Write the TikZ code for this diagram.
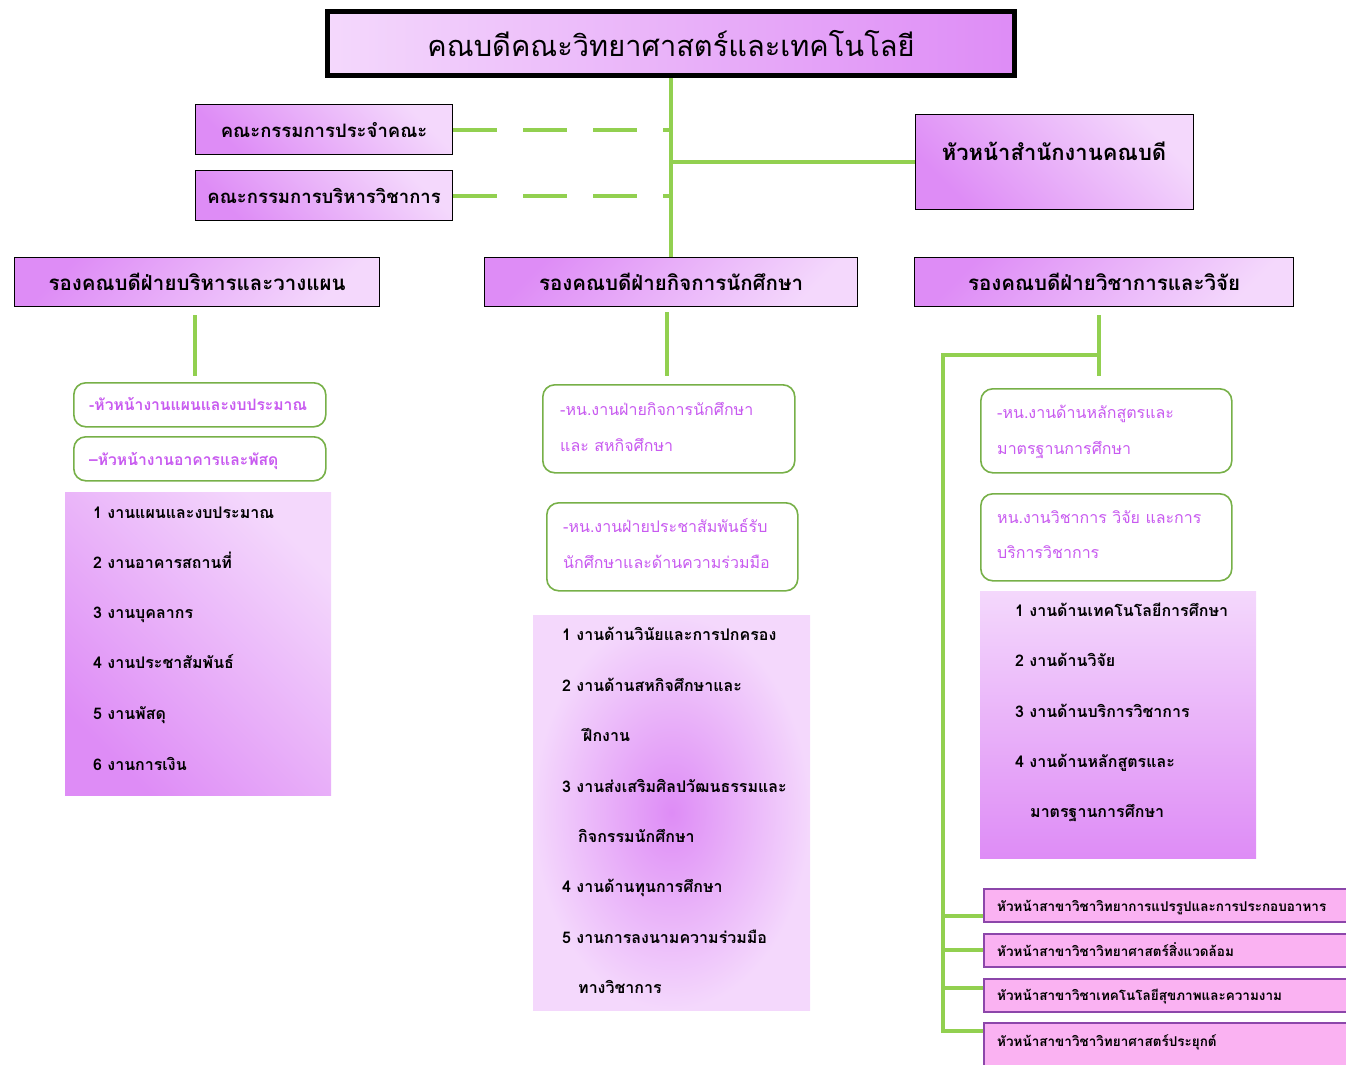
\documentclass[tikz,border=0pt]{standalone}
\usepackage{fontspec}
\setmainfont{Loma}[Script=Thai]
\definecolor{lt}{RGB}{244,216,252}
\definecolor{dk}{RGB}{222,140,246}
\definecolor{gline}{RGB}{146,208,80}
\definecolor{gbord}{RGB}{119,176,72}
\definecolor{ptext}{RGB}{200,90,240}
\definecolor{pinkf}{RGB}{250,178,242}
\definecolor{pinkb}{RGB}{140,70,170}
\begin{document}
\begin{tikzpicture}[x=1pt,y=-1pt,
  box/.style={draw=black, line width=1.2pt, inner sep=0pt, anchor=north west},
  shTR/.style={top color=lt, bottom color=dk, shading angle=-45},
  shTL/.style={top color=dk, bottom color=lt, shading angle=45},
  gl/.style={draw=gline, line width=4pt},
  gd/.style={draw=gline, line width=4pt, dash pattern=on 44pt off 26pt},
  rbox/.style={draw=gbord, line width=1.6pt, rounded corners=12pt, fill=white, inner sep=0pt, anchor=north west},
  item/.style={anchor=west, inner sep=0pt, font=\fontsize{16}{18}\selectfont\bfseries, text height=1.1em, text depth=0.2em},
  pbox/.style={draw=pinkb, line width=1.6pt, fill=pinkf, inner sep=0pt, anchor=north west},
  ptxt/.style={anchor=west, inner sep=0pt, font=\fontsize{13.5}{16}\selectfont\bfseries, text height=1.1em, text depth=0.2em},
  rtxt/.style={anchor=west, inner sep=0pt, text=ptext, font=\fontsize{16}{18}\selectfont, text height=1.1em, text depth=0.2em},
  ltxt/.style={anchor=west, inner sep=0pt, text=ptext, font=\fontsize{15.7}{18}\selectfont\bfseries, text height=1.1em, text depth=0.2em}
]
\useasboundingbox (0,0) rectangle (1346,1065);

% title
\node[box, line width=5pt, left color=lt, right color=dk, minimum width=687pt, minimum height=64pt,
  font=\fontsize{29}{34}\selectfont] (title) at (325,9) {คณบดีคณะวิทยาศาสตร์และเทคโนโลยี};

% committees
\node[box, shTR, minimum width=257pt, minimum height=50pt, font=\fontsize{18.5}{22}\selectfont\bfseries] (com1) at (195,104) {คณะกรรมการประจำคณะ};
\node[box, shTR, minimum width=257pt, minimum height=50pt, font=\fontsize{18.5}{22}\selectfont\bfseries] (com2) at (195,170) {คณะกรรมการบริหารวิชาการ};

% head office
\node[box, shTR, minimum width=278pt, minimum height=95pt] (head) at (915,114) {};
\node[anchor=center, inner sep=0pt, font=\fontsize{22}{26}\selectfont\bfseries] (headt) at (1054,151) {หัวหน้าสำนักงานคณบดี};

% vice deans
\node[box, shTL, minimum width=365pt, minimum height=49pt, font=\fontsize{20.5}{24}\selectfont\bfseries] (vl) at (14,257) {รองคณบดีฝ่ายบริหารและวางแผน};
\node[box, shTL, minimum width=373pt, minimum height=49pt, font=\fontsize{20.5}{24}\selectfont\bfseries] (vm) at (484,257) {รองคณบดีฝ่ายกิจการนักศึกษา};
\node[box, shTL, minimum width=379pt, minimum height=49pt, font=\fontsize{20.5}{24}\selectfont\bfseries] (vr) at (914,257) {รองคณบดีฝ่ายวิชาการและวิจัย};

% connectors top
\draw[gl] (title.south) -- (title.south |- vm.north);
\draw[gl] (title.south |- head.west) -- (head.west);
\draw[gd] (com1.east) -- (com1.east -| title.south);
\draw[gd] (com2.east) -- (com2.east -| title.south);

% stubs below vice deans
\coordinate (la) at (195,315); \coordinate (lb) at (195,376);
\coordinate (ma) at (667,312); \coordinate (mb) at (667,376);
\coordinate (ra) at (1099,315); \coordinate (rb) at (1099,376);
\coordinate (rh) at (943,355); \coordinate (rv) at (943,1033);
\draw[gl] (la) -- (lb);
\draw[gl] (ma) -- (mb);
\draw[gl] (ra) -- (rb);
\draw[gl] (rh -| ra) -- (rh) -- (rv);

% left column
\node[rbox, minimum width=252pt, minimum height=44pt] (lr1) at (73,382) {};
\node[ltxt] (lr1t) at (89,406) {-หัวหน้างานแผนและงบประมาณ};
\node[rbox, minimum width=252pt, minimum height=44pt] (lr2) at (73,436) {};
\node[ltxt] (lr2t) at (89,461) {--หัวหน้างานอาคารและพัสดุ};
\fill[shTR] (65,492) rectangle (331,795);
\node[item] (l1) at (93,514) {1 งานแผนและงบประมาณ};
\node[item] (l2) at (93,564) {2 งานอาคารสถานที่};
\node[item] (l3) at (93,614) {3 งานบุคลากร};
\node[item] (l4) at (93,664) {4 งานประชาสัมพันธ์};
\node[item] (l5) at (93,715) {5 งานพัสดุ};
\node[item] (l6) at (93,766) {6 งานการเงิน};

% middle column
\node[rbox, minimum width=252pt, minimum height=88pt] (mr1) at (542,384) {};
\node[rtxt] (mr1a) at (560,411) {-หน.งานฝ่ายกิจการนักศึกษา};
\node[rtxt] (mr1b) at (560,447) {และ สหกิจศึกษา};
\node[rbox, minimum width=251pt, minimum height=88pt] (mr2) at (546,502) {};
\node[rtxt] (mr2a) at (563,528) {-หน.งานฝ่ายประชาสัมพันธ์รับ};
\node[rtxt] (mr2b) at (563,564) {นักศึกษาและด้านความร่วมมือ};
\fill[inner color=dk, outer color=lt] (533,615) rectangle (810,1010);
\node[item] (m1) at (562,636) {1 งานด้านวินัยและการปกครอง};
\node[item] (m2) at (562,687) {2 งานด้านสหกิจศึกษาและ};
\node[item] (m2b) at (583,737) {ฝึกงาน};
\node[item] (m3) at (562,788) {3 งานส่งเสริมศิลปวัฒนธรรมและ};
\node[item] (m3b) at (578,838) {กิจกรรมนักศึกษา};
\node[item] (m4) at (562,888) {4 งานด้านทุนการศึกษา};
\node[item] (m5) at (562,939) {5 งานการลงนามความร่วมมือ};
\node[item] (m5b) at (578,989) {ทางวิชาการ};

% right column
\node[rbox, minimum width=251pt, minimum height=84pt] (rr1) at (980,388) {};
\node[rtxt] (rr1a) at (997,414) {-หน.งานด้านหลักสูตรและ};
\node[rtxt] (rr1b) at (997,450) {มาตรฐานการศึกษา};
\node[rbox, minimum width=251pt, minimum height=87pt] (rr2) at (980,493) {};
\node[rtxt] (rr2a) at (997,519) {หน.งานวิชาการ วิจัย และการ};
\node[rtxt] (rr2b) at (997,554) {บริการวิชาการ};
\fill[top color=lt, bottom color=dk] (980,591) rectangle (1256,858);
\node[item] (r1) at (1015,612) {1 งานด้านเทคโนโลยีการศึกษา};
\node[item] (r2) at (1015,662) {2 งานด้านวิจัย};
\node[item] (r3) at (1015,713) {3 งานด้านบริการวิชาการ};
\node[item] (r4) at (1015,763) {4 งานด้านหลักสูตรและ};
\node[item] (r4b) at (1030,813) {มาตรฐานการศึกษา};

% pink boxes
\node[pbox, minimum width=370pt, minimum height=33pt] (p1) at (983,888) {};
\node[ptxt] (p1t) at (997,907) {หัวหน้าสาขาวิชาวิทยาการแปรรูปและการประกอบอาหาร};
\node[pbox, minimum width=370pt, minimum height=33pt] (p2) at (983,933) {};
\node[ptxt] (p2t) at (997,952) {หัวหน้าสาขาวิชาวิทยาศาสตร์สิ่งแวดล้อม};
\node[pbox, minimum width=370pt, minimum height=33pt] (p3) at (983,978) {};
\node[ptxt] (p3t) at (997,996) {หัวหน้าสาขาวิชาเทคโนโลยีสุขภาพและความงาม};
\node[pbox, minimum width=370pt, minimum height=50pt] (p4) at (983,1022) {};
\node[ptxt] (p4t) at (997,1042) {หัวหน้าสาขาวิชาวิทยาศาสตร์ประยุกต์};
\coordinate (b1) at (943,916); \coordinate (b2) at (943,950);
\coordinate (b3) at (943,988); \coordinate (b4) at (943,1031);
\draw[gl] (b1) -- (b1 -| p1.west);
\draw[gl] (b2) -- (b2 -| p2.west);
\draw[gl] (b3) -- (b3 -| p3.west);
\draw[gl] (b4) -- (b4 -| p4.west);
\end{tikzpicture}
\end{document}
